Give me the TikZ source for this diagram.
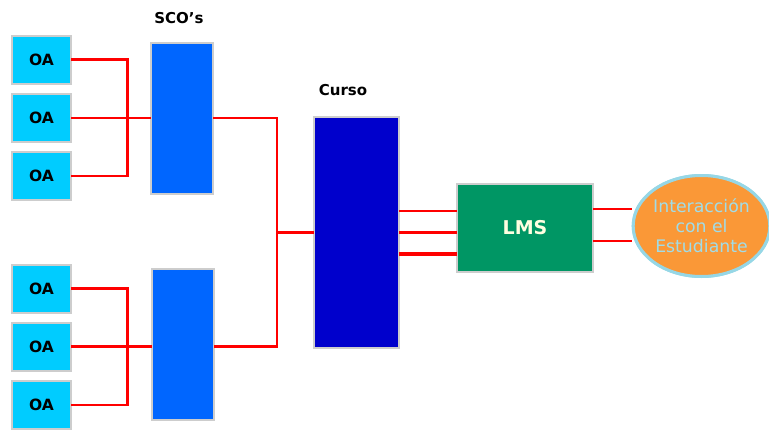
\documentclass[tikz,border=0pt]{standalone}
\usepackage{fontspec}
\setmainfont{DejaVu Sans}
\usetikzlibrary{shapes.geometric}
\definecolor{oafill}{RGB}{0,204,255}
\definecolor{scofill}{RGB}{0,102,255}
\definecolor{cursofill}{RGB}{0,0,204}
\definecolor{lmsfill}{RGB}{0,150,100}
\definecolor{edgegray}{RGB}{205,205,205}
\definecolor{ellfill}{RGB}{250,152,55}
\definecolor{ellborder}{RGB}{150,215,230}
\definecolor{elltext}{RGB}{160,220,232}
\definecolor{lmstext}{RGB}{255,255,225}
\definecolor{wirered}{RGB}{255,0,0}
\tikzset{
  box/.style={draw=edgegray, line width=2pt, inner sep=0pt, outer sep=0pt},
  oabox/.style={box, fill=oafill, minimum width=59pt, minimum height=48pt,
    font=\bfseries\fontsize{15.5}{18}\selectfont, text=black},
  scobox/.style={box, fill=scofill, minimum width=62pt, minimum height=151pt},
  cursobox/.style={box, fill=cursofill, minimum width=85pt, minimum height=231pt},
  lmsbox/.style={box, fill=lmsfill, minimum width=136pt, minimum height=88pt,
    font=\bfseries\fontsize{19}{22}\selectfont, text=lmstext},
  ellnode/.style={ellipse, draw=ellborder, line width=3pt, fill=ellfill,
    minimum width=134pt, minimum height=101pt, inner sep=0pt, align=center,
    font=\fontsize{17.3}{20}\selectfont, text=elltext},
  lbl/.style={font=\bfseries\fontsize{15}{17}\selectfont, text=black},
  wire/.style={draw=wirered, line width=2.7pt},
  thickwire/.style={draw=wirered, line width=3.8pt}
}
\begin{document}
\begin{tikzpicture}[x=1pt,y=-1pt]
\useasboundingbox (0,0) rectangle (769,431);
% OA boxes
\node[oabox] (oa1) at (41.5,59.5) {OA};
\node[oabox] (oa2) at (41.5,118) {OA};
\node[oabox] (oa3) at (41.5,176) {OA};
\node[oabox] (oa4) at (41.5,288.5) {OA};
\node[oabox] (oa5) at (41.5,346.5) {OA};
\node[oabox] (oa6) at (41.5,405) {OA};
% SCOs
\node[scobox] (sco1) at (182,118.5) {};
\node[scobox] (sco2) at (182.5,344.5) {};
\node[lbl] (scolbl) at (179,18) {SCO's};
% Curso
\node[cursobox] (curso) at (356.5,232.5) {};
\node[lbl] (cursolbl) at (343,90) {Curso};
% LMS
\node[lmsbox] (lms) at (525,228) {LMS};
% Ellipse
\node[ellnode] (ell) at (701.5,226) {Interacción\\con el\\Estudiante};
% junctions
\coordinate (jt) at (127.5,118);
\coordinate (jb) at (127.5,346.5);
\coordinate (jr) at (277,232.5);
% wires top group
\draw[wire] (oa1.east) -- (oa1.east -| jt) -- (oa3.east -| jt) -- (oa3.east);
\draw[wire] (oa2.east) -- (oa2.east -| sco1.west);
% wires bottom group
\draw[wire] (oa4.east) -- (oa4.east -| jb) -- (oa6.east -| jb) -- (oa6.east);
\draw[wire] (oa5.east) -- (oa5.east -| sco2.west);
% SCO to Curso
\draw[wire] (sco1.east |- oa2.east) -| (jr) |- (sco2.east |- oa5.east);
\draw[wire] (jr) -- (curso.west);
% Curso to LMS
\coordinate (c1) at ([yshift=21.5pt]curso.east);
\coordinate (c2) at (curso.east);
\coordinate (c3) at ([yshift=-21.5pt]curso.east);
\draw[wire] (c1) -- (c1 -| lms.west);
\draw[wire] (c2) -- (c2 -| lms.west);
\draw[thickwire] (c3) -- (c3 -| lms.west);
% LMS to ellipse
\coordinate (l1) at ([yshift=19pt]lms.east);
\coordinate (l2) at ([yshift=-13pt]lms.east);
\draw[wire] (l1) -- (l1 -| ell.west);
\draw[wire] (l2) -- (l2 -| ell.west);
% redraw ellipse on top of wire ends
\node[ellnode] at (ell.center) {Interacción\\con el\\Estudiante};
\end{tikzpicture}
\end{document}
